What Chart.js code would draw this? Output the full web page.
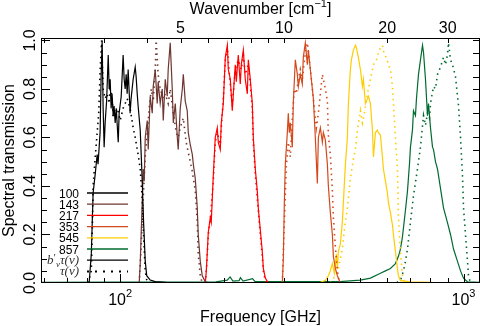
<!DOCTYPE html>
<html>
<head>
<meta charset="utf-8">
<script src="https://cdn.jsdelivr.net/npm/chart.js@4.4.0/dist/chart.umd.min.js"></script>
<style>
  html, body { margin: 0; padding: 0; background: #fff; }
</style>
</head>
<body>
<canvas id="chart" width="480" height="326"></canvas>
<script>
const GHZ_PER_CM = 29.9792458;
const freqMin = 58.8, freqMax = 1117;

const bandNames = ['100', '143', '217', '353', '545', '857'];
const bandColors = ['#000000', '#6e3631', '#ff0000', '#d4491c', '#ffcc00', '#006b30'];

// [frequency GHz, transmission]  solid = b'_nu tau(nu), dotted = tau(nu)
const solid100 = [[81.2,0],[82.4,0.12],[83.4,0.37],[84.6,0.45],[85.7,0.53],[86.2,0.49],[87.4,0.62],[88.0,0.85],[88.6,1.0],[89.2,0.72],[89.8,0.56],[90.4,0.66],[91.3,0.75],[92.3,0.94],[92.9,0.80],[93.5,0.84],[94.1,0.72],[94.7,0.78],[95.4,0.69],[96.0,0.73],[96.7,0.66],[97.4,0.72],[98.7,0.58],[99.3,0.70],[100.7,0.77],[102.0,0.94],[102.7,0.84],[103.4,0.80],[104.1,0.86],[104.8,0.78],[105.5,0.88],[106.9,0.70],[107.6,0.76],[109.1,0.84],[110.6,0.89],[111.3,0.85],[112.1,0.78],[112.8,0.73],[114.4,0.63],[115.8,0.44],[117.0,0.25],[118.3,0.09],[119.5,0.03],[122.3,0.012],[126.5,0.006],[135.3,0.003],[139.9,0]];
const dotted100 = [[80.7,0],[82.4,0.05],[82.9,0.2],[83.4,0.40],[84.6,0.52],[85.7,0.62],[86.6,0.70],[87.4,0.87],[88.3,1.0],[89.2,0.80],[90.4,0.76],[91.6,0.78],[92.9,0.74],[93.5,0.80],[94.7,0.77],[95.4,0.68],[96.7,0.70],[98.1,0.72],[100,0.67],[102.0,0.72],[103.4,0.74],[104.8,0.76],[106.9,0.72],[109.1,0.64],[110.6,0.60],[112.8,0.53],[114.4,0.47],[115.8,0.36],[117.0,0.2],[118.3,0.05],[119.9,0]];

const solid143 = [[113.6,0],[114.4,0.08],[115.1,0.2],[115.9,0.33],[116.7,0.47],[117.5,0.42],[118.3,0.6],[119.9,0.67],[120.7,0.55],[122.3,0.77],[124.0,0.70],[124.8,0.81],[126.5,0.88],[128.2,0.74],[129.0,0.83],[130.8,0.74],[132.6,0.80],[133.5,0.67],[135.3,0.84],[137.1,0.77],[138.0,0.88],[139.9,0.99],[141.8,0.80],[142.8,0.66],[144.7,0.74],[146.7,0.60],[147.6,0.55],[149.6,0.72],[151.7,0.80],[152.7,0.86],[154.7,0.75],[156.8,0.71],[157.9,0.62],[160.0,0.57],[162.2,0.53],[163.3,0.49],[165.5,0.43],[167.7,0.31],[168.8,0.20],[171.1,0.09],[173.4,0.03],[177.0,0.005],[183,0]];
const dotted143 = [[113.6,0],[115.1,0.15],[116.7,0.35],[118.3,0.52],[119.9,0.62],[121.5,0.72],[123.2,0.80],[124.8,0.75],[126.5,0.88],[127.3,1.0],[129.0,0.86],[130.8,0.80],[133.5,0.76],[135.3,0.78],[138.0,0.74],[139.9,0.80],[142.8,0.70],[145.7,0.62],[147.6,0.60],[149.6,0.64],[152.7,0.68],[155.7,0.58],[158.9,0.52],[162.2,0.46],[165.5,0.38],[167.7,0.25],[168.8,0.12],[171.1,0.03],[173.4,0]];

const solid217 = [[177.0,0],[178.2,0.05],[180.6,0.21],[183.0,0.27],[184.2,0.25],[186.7,0.44],[189.2,0.60],[191.8,0.64],[193.1,0.58],[195.7,0.55],[197.0,0.66],[199.7,0.74],[202.4,0.93],[205.2,0.98],[206.5,0.88],[209.3,0.84],[212.1,0.71],[213.6,0.78],[216.4,0.90],[217.9,0.83],[220.8,0.94],[223.8,0.82],[225.3,0.90],[228.4,0.96],[231.4,0.84],[234.6,0.78],[236.2,0.92],[239.3,0.84],[242.6,0.74],[244.2,0.60],[247.5,0.47],[250.8,0.38],[252.5,0.31],[255.9,0.22],[259.4,0.13],[261.2,0.06],[264.7,0.02],[270.1,0]];
const dotted217 = [[177.0,0],[178.8,0.08],[180.6,0.20],[183.0,0.26],[186.7,0.42],[189.2,0.58],[191.8,0.62],[195.7,0.57],[197.0,0.64],[199.7,0.76],[202.4,0.92],[205.2,0.97],[208.0,0.86],[212.1,0.73],[216.4,0.88],[220.8,0.92],[225.3,0.88],[228.4,0.94],[231.4,0.86],[236.2,0.90],[239.3,0.82],[242.6,0.72],[244.2,0.58],[247.5,0.45],[252.5,0.30],[255.9,0.20],[259.4,0.11],[261.2,0.05],[264.7,0.01],[268,0]];

const solid353 = [[296.7,0],[298.7,0.10],[300.7,0.33],[302.7,0.49],[306.8,0.62],[308.8,0.70],[310.9,0.62],[313.0,0.66],[317.2,0.56],[319.3,0.74],[323.7,0.92],[328.1,0.86],[330.3,0.81],[334.7,0.86],[339.2,0.82],[341.5,0.93],[346.2,0.99],[350.9,0.90],[353.3,0.96],[358.0,0.88],[362.9,0.80],[365.3,0.76],[370.2,0.60],[375.2,0.41],[377.8,0.60],[382.9,0.64],[388.1,0.58],[390.7,0.62],[395.9,0.59],[401.3,0.49],[404.0,0.40],[409.4,0.29],[415.0,0.20],[417.8,0.11],[423.4,0.06],[429.2,0.03],[437.8,0]];
const dotted353 = [[296.7,0],[300.7,0.25],[304.7,0.48],[308.8,0.58],[313.0,0.52],[317.2,0.68],[321.5,0.80],[325.9,0.78],[330.3,0.84],[334.7,0.88],[339.2,0.84],[346.2,0.95],[350.9,0.99],[355.6,0.92],[358.0,0.88],[362.9,0.80],[367.8,0.72],[372.7,0.64],[377.8,0.70],[382.9,0.78],[388.1,0.86],[393.3,0.82],[395.9,0.80],[401.3,0.75],[404.0,0.61],[409.4,0.53],[415.0,0.38],[417.8,0.27],[423.4,0.15],[429.2,0.05],[435.0,0]];

const solid545 = [[150,0.002],[382.9,0.003],[395.9,0.01],[404.0,0.03],[409.4,0.05],[415.0,0.08],[420.6,0.04],[426.3,0.12],[429.2,0.06],[432.1,0.13],[437.8,0.16],[443.7,0.25],[446.7,0.33],[452.9,0.49],[459.0,0.60],[462.1,0.74],[468.3,0.88],[471.5,0.92],[477.8,0.96],[484.3,0.98],[487.5,0.97],[494.1,0.93],[500.9,0.88],[507.6,0.81],[511.0,0.84],[518.0,0.74],[525.0,0.76],[528.6,0.77],[535.7,0.74],[543.0,0.63],[546.7,0.52],[553.9,0.62],[561.3,0.63],[565.1,0.62],[572.8,0.61],[580.5,0.52],[584.5,0.47],[592.4,0.42],[600.4,0.37],[604.5,0.33],[612.6,0.29],[620.9,0.24],[625.1,0.20],[633.5,0.13],[642.1,0.06],[646.4,0.03],[655.1,0.01],[700.6,0.005],[811,0.003]];
const dotted545 = [[409.4,0],[423.4,0.03],[432.1,0.06],[437.8,0.10],[443.7,0.14],[449.8,0.22],[459.0,0.31],[468.3,0.43],[477.8,0.51],[484.3,0.55],[490.8,0.63],[500.9,0.71],[507.6,0.66],[514.5,0.70],[525.0,0.78],[535.7,0.84],[546.7,0.90],[557.6,0.92],[565.1,0.95],[572.8,0.97],[580.5,0.98],[588.4,0.94],[596.4,0.93],[604.5,0.90],[612.6,0.88],[620.9,0.81],[625.1,0.74],[633.5,0.60],[642.1,0.47],[646.4,0.27],[655.1,0.13],[664.0,0.03],[673.1,0]];

const solid857 = [[58.8,0.003],[100,0.004],[150,0.004],[190,0.005],[205,0.012],[209,0.025],[213,0.008],[222,0.01],[224,0.022],[228,0.008],[243,0.018],[247,0.006],[280,0.006],[340,0.006],[437.8,0.006],[477.8,0.01],[500.9,0.012],[535.7,0.02],[572.8,0.04],[592.4,0.05],[612.6,0.06],[633.5,0.08],[646.4,0.11],[655.1,0.14],[664.0,0.19],[677.5,0.30],[686.9,0.38],[696.0,0.49],[700.6,0.56],[710.1,0.63],[715.0,0.71],[724.6,0.69],[729.5,0.76],[734.4,0.81],[739.4,0.86],[749.3,0.92],[759.6,0.98],[764.8,0.95],[774.9,0.84],[785.4,0.69],[790.7,0.74],[801.4,0.64],[812.3,0.56],[817.8,0.55],[828.7,0.50],[839.9,0.47],[857.0,0.39],[874.5,0.31],[897.6,0.25],[916.5,0.20],[935.3,0.14],[960.0,0.09],[980.2,0.05],[1000.0,0.02],[1027,0.005],[1117,0.003]];
const dotted857 = [[572.8,0],[633.5,0],[655.1,0.01],[668.5,0.05],[677.5,0.09],[686.9,0.14],[700.6,0.25],[715.0,0.36],[734.4,0.47],[749.3,0.56],[764.8,0.69],[774.9,0.65],[785.4,0.70],[796.0,0.68],[801.4,0.74],[817.8,0.81],[828.7,0.80],[839.9,0.86],[857.0,0.89],[874.5,0.93],[886.3,0.90],[897.6,0.94],[904.3,0.99],[916.5,0.92],[928.9,0.90],[947.8,0.85],[967.2,0.73],[980.2,0.60],[993.4,0.44],[1000.0,0.31],[1013.5,0.20],[1027.1,0.09],[1034.0,0.03],[1048,0]];

const solidCurves = [solid100, solid143, solid217, solid353, solid545, solid857];
const dottedCurves = [dotted100, dotted143, dotted217, dotted353, dotted545, dotted857];

// axis ticks
const yTicks = [0, 0.2, 0.4, 0.6, 0.8, 1.0];
const yTickLabels = ['0.0', '0.2', '0.4', '0.6', '0.8', '1.0'];
const freqMajor = [100, 1000];
const freqMajorExp = ['2', '3'];
const freqMinor = [60, 70, 80, 90, 200, 300, 400, 500, 600, 700, 800, 900];
const waveTicks = [2, 3, 4, 5, 6, 7, 8, 9, 10, 20, 30];
const waveLabels = [5, 10, 20, 30];

const datasets = [];
bandNames.forEach((name, i) => {
    datasets.push({
        label: name,
        data: solidCurves[i].map(p => ({x: p[0], y: p[1]})),
        borderColor: bandColors[i],
        borderWidth: 1.2,
        pointRadius: 0,
        tension: 0
    });
    datasets.push({
        label: name + ' tau',
        data: dottedCurves[i].map(p => ({x: p[0], y: p[1]})),
        borderColor: bandColors[i],
        borderWidth: 1.6,
        borderDash: [1.5, 4],
        pointRadius: 0,
        tension: 0
    });
});

function drawRuns(ctx, runs, x, y, align) {
    let total = 0;
    runs.forEach(r => { ctx.font = r.font; r.w = ctx.measureText(r.text).width; total += r.w; });
    let cx = align === 'right' ? x - total : (align === 'center' ? x - total / 2 : x);
    ctx.textAlign = 'left';
    runs.forEach(r => {
        ctx.font = r.font;
        ctx.fillText(r.text, cx, y + (r.dy || 0));
        cx += r.w;
    });
}

const SANS = '"Liberation Sans", Arial, Helvetica, sans-serif';

const idlAxes = {
    id: 'idlAxes',
    afterDatasetsDraw(chart) {
        const {ctx, chartArea: a, scales} = chart;
        const x = scales.x, y = scales.y, xTop = scales.xTop;
        const px = v => Math.round(v) + 0.5;
        ctx.save();
        ctx.strokeStyle = '#000';
        ctx.fillStyle = '#000';
        ctx.lineWidth = 1;
        ctx.strokeRect(a.left + 0.5, a.top + 0.5, a.right - a.left - 1, a.bottom - a.top - 1);

        ctx.beginPath();
        // y ticks every 0.05 on both sides
        for (let k = 1; k <= 20; k++) {
            const yy = px(y.getPixelForValue(k * 0.05));
            const len = (k % 4 === 0) ? 9 : 6;
            ctx.moveTo(a.left, yy); ctx.lineTo(a.left + len, yy);
            ctx.moveTo(a.right, yy); ctx.lineTo(a.right - 7, yy);
        }
        freqMajor.forEach(f => {
            const xx = px(x.getPixelForValue(f));
            ctx.moveTo(xx, a.bottom); ctx.lineTo(xx, a.bottom - 9);
        });
        freqMinor.forEach(f => {
            const xx = px(x.getPixelForValue(f));
            ctx.moveTo(xx, a.bottom); ctx.lineTo(xx, a.bottom - 5);
        });
        waveTicks.forEach(w => {
            const xx = px(xTop.getPixelForValue(w));
            if (xx < a.left || xx > a.right) return;
            ctx.moveTo(xx, a.top); ctx.lineTo(xx, a.top + 5);
        });
        ctx.stroke();

        // y tick labels (rotated)
        ctx.font = '16px ' + SANS;
        ctx.textBaseline = 'alphabetic';
        yTicks.forEach((v, i) => {
            ctx.save();
            ctx.translate(35, y.getPixelForValue(v));
            ctx.rotate(-Math.PI / 2);
            ctx.textAlign = 'center';
            ctx.fillText(yTickLabels[i], 0, 0);
            ctx.restore();
        });
        // bottom labels 10^n
        freqMajor.forEach((f, i) => {
            drawRuns(ctx, [
                {text: '10', font: '16px ' + SANS},
                {text: freqMajorExp[i], font: '11px ' + SANS, dy: -8}
            ], x.getPixelForValue(f), 305, 'center');
        });
        // top labels (wavenumber)
        ctx.font = '16px ' + SANS;
        ctx.textAlign = 'center';
        waveLabels.forEach(w => {
            ctx.fillText(String(w), xTop.getPixelForValue(w), 33);
        });

        // titles
        const cx = (a.left + a.right) / 2;
        ctx.textAlign = 'center';
        ctx.fillText('Frequency [GHz]', cx, 322);
        drawRuns(ctx, [
            {text: 'Wavenumber [cm', font: '16px ' + SANS},
            {text: '\u22121', font: '11px ' + SANS, dy: -7},
            {text: ']', font: '16px ' + SANS}
        ], cx, 14, 'center');
        ctx.save();
        ctx.translate(14, (a.top + a.bottom) / 2);
        ctx.rotate(-Math.PI / 2);
        ctx.font = '16px ' + SANS;
        ctx.textAlign = 'center';
        ctx.fillText('Spectral transmission', 0, 0);
        ctx.restore();

        // legend
        const rowY = k => 193 + k * 11.2;
        bandNames.forEach((name, i) => {
            const yy = rowY(i);
            ctx.font = '12px ' + SANS;
            ctx.textAlign = 'right';
            ctx.fillStyle = '#000';
            ctx.fillText(name, 79, yy + 4.5);
            ctx.beginPath();
            ctx.strokeStyle = bandColors[i];
            ctx.lineWidth = 1.3;
            ctx.moveTo(87, yy); ctx.lineTo(128, yy);
            ctx.stroke();
        });
        const serif = '"Liberation Serif", "Times New Roman", serif';
        ctx.fillStyle = '#333';
        drawRuns(ctx, [
            {text: 'b', font: 'italic 13px ' + serif},
            {text: '\u2032', font: '11px ' + serif, dy: -3},
            {text: '\u03bd', font: 'italic 9px ' + serif, dy: 3},
            {text: '\u03c4(\u03bd)', font: 'italic 13px ' + serif}
        ], 79, rowY(6) + 4, 'right');
        drawRuns(ctx, [
            {text: '\u03c4(\u03bd)', font: 'italic 13px ' + serif}
        ], 79, rowY(7) + 4, 'right');
        ctx.strokeStyle = '#000';
        ctx.lineWidth = 1.3;
        ctx.beginPath();
        ctx.moveTo(87, rowY(6)); ctx.lineTo(128, rowY(6));
        ctx.stroke();
        ctx.setLineDash([2, 6]);
        ctx.lineWidth = 2;
        ctx.beginPath();
        ctx.moveTo(87, rowY(7)); ctx.lineTo(128, rowY(7));
        ctx.stroke();
        ctx.restore();
    }
};

new Chart(document.getElementById('chart').getContext('2d'), {
    type: 'line',
    data: {datasets: datasets},
    options: {
        responsive: false,
        animation: false,
        devicePixelRatio: 1,
        layout: {padding: {left: 41, right: 0, top: 38, bottom: 43}},
        plugins: {legend: {display: false}, tooltip: {enabled: false}},
        scales: {
            x: {type: 'logarithmic', min: freqMin, max: freqMax, display: false},
            xTop: {type: 'logarithmic', position: 'top', min: freqMin / GHZ_PER_CM, max: freqMax / GHZ_PER_CM, display: false},
            y: {type: 'linear', min: 0, max: 1.01, display: false}
        }
    },
    plugins: [idlAxes]
});
</script>
</body>
</html>
